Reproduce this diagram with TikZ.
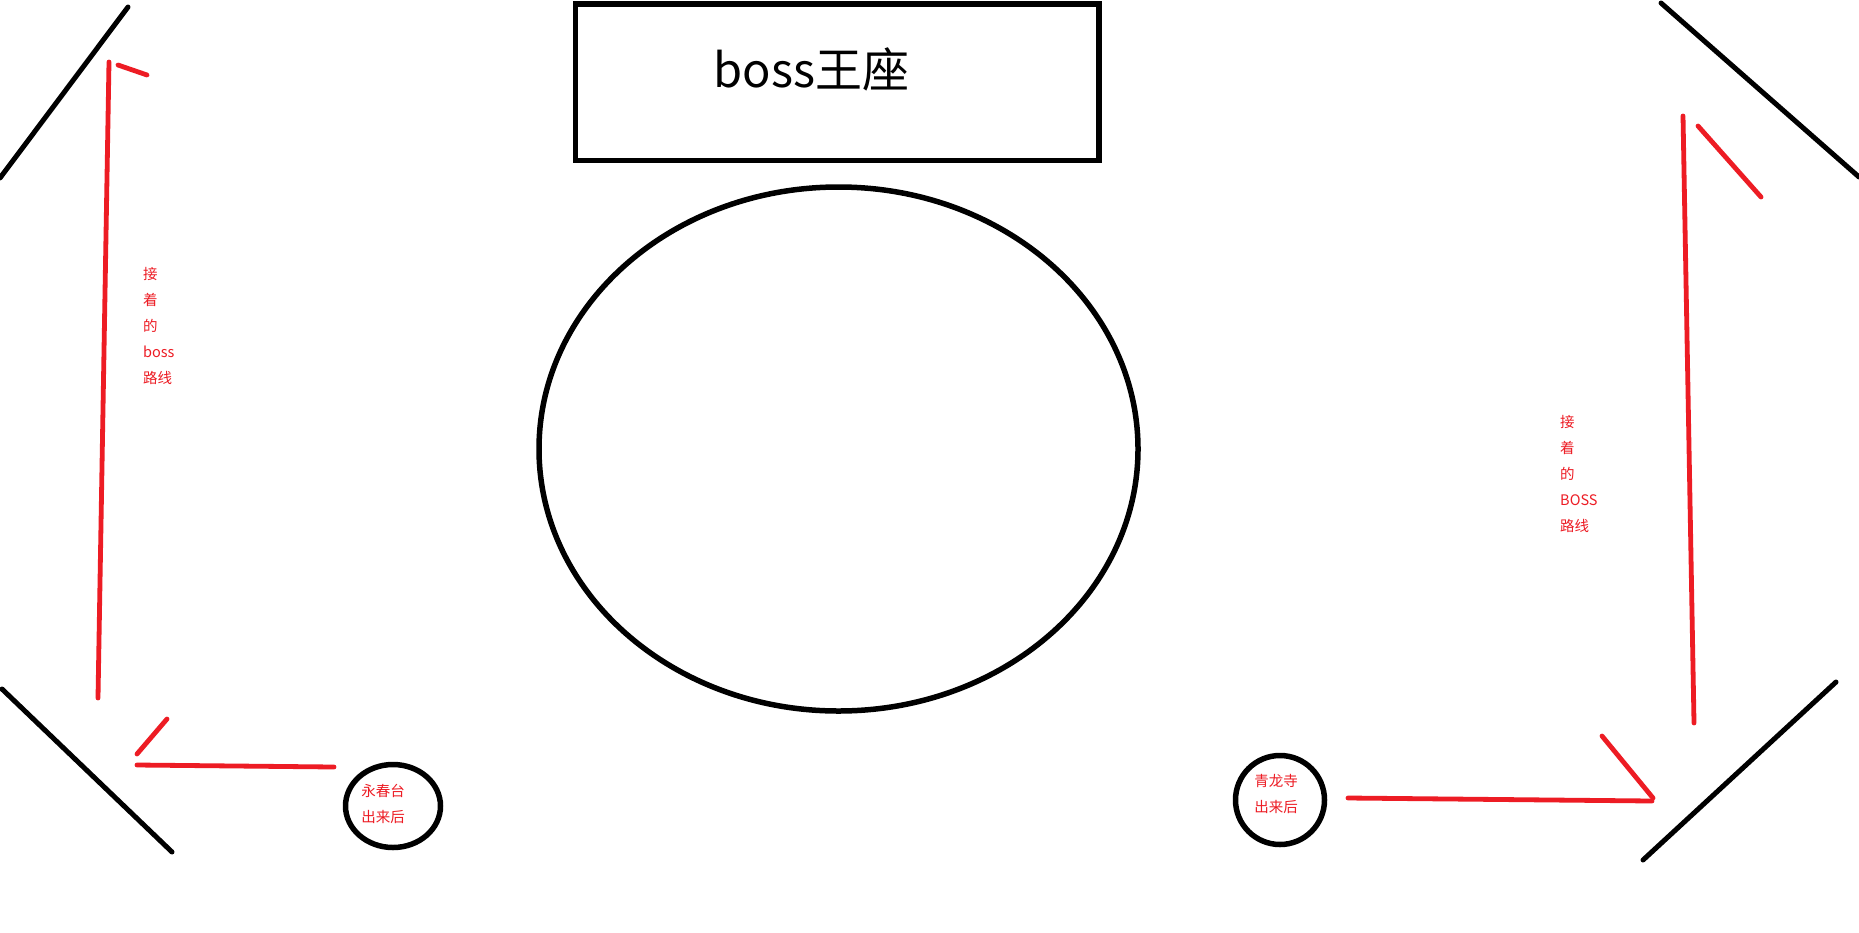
\documentclass[tikz,border=0pt]{standalone}
\usepackage{fontspec}
\setmainfont{Noto Sans CJK SC}
\newfontfamily\cjkfont{Noto Sans CJK SC}
\usetikzlibrary{shapes.geometric}
\definecolor{paintred}{HTML}{ED1C24}
\tikzset{
  wall/.style={line width=5pt, black, line cap=round},
  route/.style={line width=4.8pt, paintred, line cap=round},
  shapeline/.style={draw=black, line width=5.5pt, inner sep=0pt},
  redtext/.style={text=paintred, inner sep=0pt, align=left, font=\cjkfont\fontsize{14.5}{26}\selectfont},
}
\begin{document}
\begin{tikzpicture}[x=1pt,y=-1pt]
\useasboundingbox (0,0) rectangle (1859,932);
\fill[white] (0,0) rectangle (1859,932);

% boss throne box
\node[shapeline, rectangle, minimum width=523.5pt, minimum height=156.5pt] (throne) at (837.25,82.25) {};
\node[inner sep=0pt, anchor=base, font=\cjkfont\fontsize{47}{50}\selectfont] (thronetext) at (811.5,87) {boss王座};

% central arena
\node[shapeline, ellipse, minimum width=599pt, minimum height=524pt] (arena) at (838.5,449) {};

% exit circles
\node[shapeline, ellipse, minimum width=95pt, minimum height=83pt] (exitL) at (393,806) {};
\node[redtext, align=center] (exitLtext) at (383,804) {永春台\\出来后};
\node[shapeline, ellipse, minimum width=89pt, minimum height=89pt] (exitR) at (1280,800) {};
\node[redtext, align=center] (exitRtext) at (1276,794) {青龙寺\\出来后};

% route labels (base anchor = baseline of last line)
\node[redtext, anchor=base west] (routeL) at (143,383.5) {接\\着\\的\\boss\\路线};
\node[redtext, anchor=base west] (routeR) at (1560,531.5) {接\\着\\的\\BOSS\\路线};

% walls
\coordinate (w1a) at (128,7);   \coordinate (w1b) at (0,178);
\coordinate (w2a) at (2,689);   \coordinate (w2b) at (172,852);
\coordinate (w3a) at (1661,3);  \coordinate (w3b) at (1859,177);
\coordinate (w4a) at (1836,682);\coordinate (w4b) at (1643,860);
\draw[wall] (w1a) -- (w1b);
\draw[wall] (w2a) -- (w2b);
\draw[wall] (w3a) -- (w3b);
\draw[wall] (w4a) -- (w4b);

% left route
\coordinate (lh1) at (334,767); \coordinate (lh2) at (137,765);
\coordinate (lt1) at (167,719); \coordinate (lt2) at (137,754);
\coordinate (lv1) at (98,698);  \coordinate (lv2) at (109,62);
\coordinate (lu1) at (118,65);  \coordinate (lu2) at (147,75);
\draw[route] (lh1) -- (lh2);
\draw[route] (lt1) -- (lt2);
\draw[route] (lv1) -- (lv2);
\draw[route] (lu1) -- (lu2);

% right route
\coordinate (rh1) at (1348,798); \coordinate (rh2) at (1652,801);
\coordinate (rt1) at (1602,736); \coordinate (rt2) at (1653,798);
\coordinate (rv1) at (1694,723); \coordinate (rv2) at (1683,116);
\coordinate (ru1) at (1698,126); \coordinate (ru2) at (1761,197);
\draw[route] (rh1) -- (rh2);
\draw[route] (rt1) -- (rt2);
\draw[route] (rv1) -- (rv2);
\draw[route] (ru1) -- (ru2);
\end{tikzpicture}
\end{document}
